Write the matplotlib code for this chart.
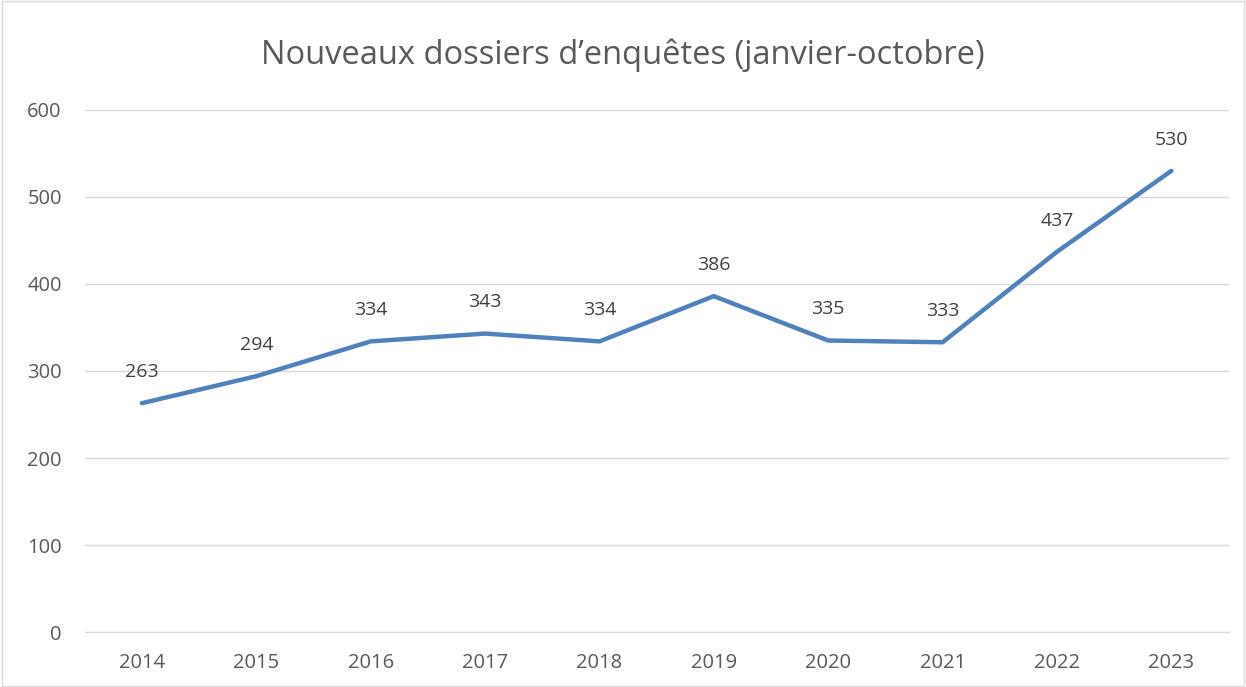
import matplotlib.pyplot as plt

years = ["2014", "2015", "2016", "2017", "2018", "2019", "2020", "2021", "2022", "2023"]
dossiers = [263, 294, 334, 343, 334, 386, 335, 333, 437, 530]

plt.rcParams['font.family'] = ['Open Sans', 'DejaVu Sans']
txt = '#595959'

fig = plt.figure(figsize=(12.46, 6.87), dpi=100)
ax = fig.add_axes([0.068, 0.080, 0.918, 0.760])

x = range(len(years))
ax.plot(x, dossiers, color='#4F81BD', linewidth=3.2, solid_capstyle='round', zorder=3)
for xi, v in zip(x, dossiers):
    ax.annotate(str(v), (xi, v), xytext=(0, 16), textcoords='offset points',
                ha='center', va='bottom', fontsize=14, color='#404040')

ax.set_xlim(-0.5, len(years) - 0.5)
ax.set_ylim(0, 600)
ax.set_yticks(range(0, 601, 100))
ax.set_xticks(list(x))
ax.set_xticklabels(years)
ax.tick_params(axis='both', length=0, labelsize=14.5, colors=txt)
ax.tick_params(axis='y', pad=16.5)
ax.tick_params(axis='x', pad=15)
ax.grid(axis='y', color='#D9D9D9', linewidth=1)
ax.set_axisbelow(True)
for s in ['top', 'right', 'left']:
    ax.spines[s].set_visible(False)
ax.spines['bottom'].set_color('#D9D9D9')

fig.text(0.5, 0.92, "Nouveaux dossiers d\u2019enqu\u00eates (janvier-octobre)",
         ha='center', va='center', fontsize=23.5, color=txt)

fig.patches.append(plt.Rectangle((0.002, 0.002), 0.996, 0.996, transform=fig.transFigure,
                                 fill=False, edgecolor='#D9D9D9', linewidth=1))

fig.savefig("out.png", dpi=100)
